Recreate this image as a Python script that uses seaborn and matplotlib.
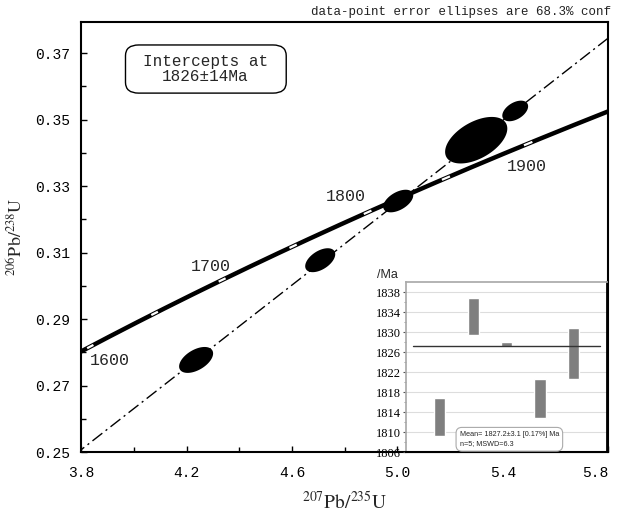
import numpy as np
import pandas as pd
import matplotlib
matplotlib.use("Agg")
import matplotlib.pyplot as plt
import seaborn as sns
from matplotlib.patches import FancyBboxPatch
from matplotlib.ticker import FixedLocator, FormatStrFormatter

# decay constants (per year)
LAM238 = 1.55125e-10
LAM235 = 9.8485e-10

# axis ticks
x_major = [3.8, 4.2, 4.6, 5.0, 5.4, 5.8]
x_minor = [4.0, 4.4, 4.8, 5.2, 5.6]
y_major = [0.25, 0.27, 0.29, 0.31, 0.33, 0.35, 0.37]
y_minor = [0.26, 0.28, 0.30, 0.32, 0.34, 0.36]

# concordia age marks (Ma) and labelled ages
mark_ages = [1600, 1650, 1700, 1750, 1800, 1850, 1900, 1950]
label_ages = [1600, 1700, 1800, 1900]
label_x = [3.91, 4.29, 4.806, 5.493]
label_y = [0.2774, 0.3059, 0.327, 0.336]

# discordia intercepts (Ma)
lower_age = 170
upper_age = 1826

# data-point ellipses: 207Pb/235U, err, 206Pb/238U, err, rho
ell_x = [4.236, 4.707, 5.003, 5.299, 5.447]
ell_sx = [0.0645, 0.057, 0.057, 0.118, 0.049]
ell_y = [0.2777, 0.3077, 0.3255, 0.3438, 0.3526]
ell_sy = [0.0039, 0.0036, 0.0034, 0.0070, 0.0031]
ell_rho = [0.5, 0.5, 0.5, 0.5, 0.45]

# weighted mean inset
spot = [1, 2, 3, 4, 5]
spot_age = [1813.0, 1833.1, 1827.5, 1816.7, 1825.7]
spot_err = [3.8, 3.7, 0.5, 3.9, 5.1]
mean_age = 1827.2
inset_ticks = [1806, 1810, 1814, 1818, 1822, 1826, 1830, 1834, 1838]


def concordia(t_ma):
    t = np.asarray(t_ma, dtype=float) * 1e6
    return np.exp(LAM235 * t) - 1, np.exp(LAM238 * t) - 1


sns.set_theme(style="ticks")
plt.rcParams['font.family'] = ['Liberation Mono', 'DejaVu Sans']
plt.rcParams['mathtext.fontset'] = 'stix'

fig = plt.figure(figsize=(6.2, 5.16), dpi=100)
ax = fig.add_axes([0.131, 0.124, 0.850, 0.833])

# concordia curve
t_curve = np.linspace(1550, 2000, 500)
cx, cy = concordia(t_curve)
conc = pd.DataFrame({'x': cx, 'y': cy})
sns.lineplot(data=conc, x='x', y='y', sort=False, color='black', lw=3.2, ax=ax)
for a in mark_ages:
    mx, my = concordia(np.linspace(a - 2.5, a + 2.5, 5))
    ax.plot(mx, my, color='white', lw=1.6, solid_capstyle='butt')
for a, lx, ly in zip(label_ages, label_x, label_y):
    ax.text(lx, ly, str(a), fontsize=12, ha='center', va='center')

# discordia line
(x0, x1), (y0, y1) = concordia([lower_age, upper_age])
slope = (y1 - y0) / (x1 - x0)
dx = np.array([3.5, 6.2])
disc = pd.DataFrame({'x': dx, 'y': y1 + slope * (dx - x1)})
sns.lineplot(data=disc, x='x', y='y', color='black', lw=1.0,
             linestyle=(0, (9, 3, 1.5, 3)), ax=ax)

# error ellipses
th = np.linspace(0, 2 * np.pi, 200)
for x, sx, y, sy, r in zip(ell_x, ell_sx, ell_y, ell_sy, ell_rho):
    ex = x + sx * np.cos(th)
    ey = y + sy * (r * np.cos(th) + np.sqrt(1 - r ** 2) * np.sin(th))
    ax.fill(ex, ey, color='black', lw=0, zorder=3)

ax.set_xlim(3.8, 5.8)
ax.set_ylim(0.25, 0.3793)
ax.xaxis.set_major_locator(FixedLocator(x_major))
ax.xaxis.set_minor_locator(FixedLocator(x_minor))
ax.yaxis.set_major_locator(FixedLocator(y_major))
ax.yaxis.set_minor_locator(FixedLocator(y_minor))
ax.xaxis.set_major_formatter(FormatStrFormatter('%.1f'))
ax.yaxis.set_major_formatter(FormatStrFormatter('%.2f'))
ax.tick_params(which='major', direction='in', length=4, width=1, labelsize=10.5,
               colors='black', pad=8)
ax.tick_params(which='minor', direction='in', length=3.5, width=1, colors='black')
ax.tick_params(axis='x', which='major', pad=10)
ax.get_xticklabels()[-1].set_horizontalalignment('right')
for s in ax.spines.values():
    s.set_color('black')
    s.set_linewidth(1.5)
ax.set_xlabel(r'$^{207}\mathrm{Pb}/^{235}\mathrm{U}$', fontsize=14, labelpad=8)
ax.set_ylabel(r'$^{206}\mathrm{Pb}/^{238}\mathrm{U}$', fontsize=13, labelpad=6)

# intercept box
box = FancyBboxPatch((0.084, 0.835), 0.305, 0.112, transform=ax.transAxes,
                     boxstyle='round,pad=0,rounding_size=0.025',
                     fc='white', ec='black', lw=1.0, zorder=4)
ax.add_patch(box)
ax.text(0.236, 0.891, 'Intercepts at\n1826±14Ma', transform=ax.transAxes,
        ha='center', va='center', fontsize=11.5, linespacing=1.0, zorder=5)

fig.text(0.985, 0.977, 'data-point error ellipses are 68.3% conf',
         ha='right', va='center', fontsize=9, color='#222222')

# weighted mean inset
ins = fig.add_axes([0.655, 0.124, 0.324, 0.329])
ins.set_facecolor('white')
ins.bar(spot, [2 * e for e in spot_err], bottom=[a - e for a, e in zip(spot_age, spot_err)],
        width=0.33, color='#7f7f7f', zorder=3)
sns.lineplot(x=[0.2, 5.8], y=[mean_age, mean_age], color='#333333', lw=1.0,
             ax=ins, zorder=4)
ins.set_xlim(0, 6)
ins.set_ylim(1806, 1840)
ins.set_xticks([])
ins.set_yticks(inset_ticks)
ins.set_yticks(np.arange(1808, 1840, 4), minor=True)
ins.grid(axis='y', which='major', color='#dddddd', lw=0.8, zorder=0)
ins.tick_params(axis='y', which='major', direction='out', length=2.5, width=0.8,
                labelsize=9, colors='#555555', labelcolor='black', pad=1)
ins.tick_params(axis='y', which='minor', direction='out', length=1.5, width=0.6,
                colors='#888888')
for lab in ins.get_yticklabels():
    lab.set_family(['Liberation Serif'])
ins.spines['left'].set_color('#aaaaaa')
ins.spines['top'].set_color('#aaaaaa')
ins.spines['right'].set_color('black')
ins.spines['right'].set_linewidth(1.3)
ins.spines['bottom'].set_color('black')
ins.spines['bottom'].set_linewidth(1.5)
ins.set_xlabel('')
ins.set_ylabel('')
ins.text(-0.145, 1.005, '/Ma', transform=ins.transAxes, ha='left', va='bottom',
         fontsize=9, family=['Liberation Sans'])
ins.text(1.6, 1806.9, 'Mean= 1827.2±3.1 [0.17%] Ma\nn=5; MSWD=6.3',
         fontsize=5.2, family=['Liberation Sans'], ha='left', va='bottom',
         linespacing=1.5, zorder=5,
         bbox=dict(boxstyle='round,pad=0.5,rounding_size=0.8', fc='white',
                   ec='#aaaaaa', lw=0.8))

fig.savefig('out.png', dpi=100)
